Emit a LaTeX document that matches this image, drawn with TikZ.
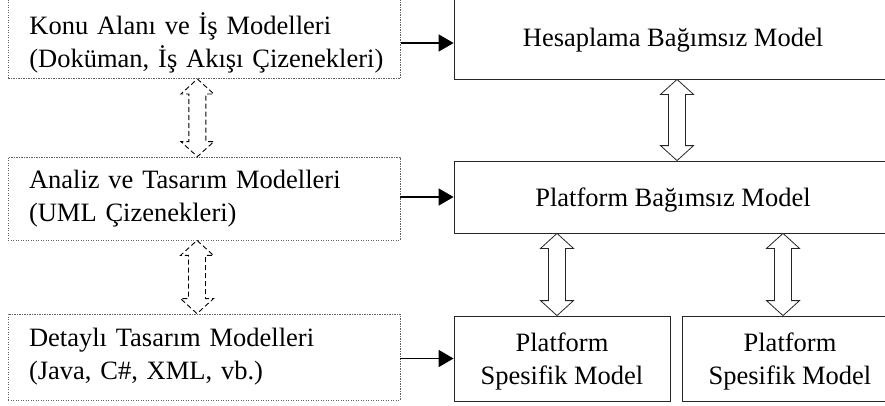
\documentclass[tikz,border=0pt]{standalone}
\usepackage{fontspec}
\setmainfont{Liberation Serif}
\usetikzlibrary{calc,arrows.meta}

\tikzset{
    leftbox/.style={draw=gray!75!black, dash pattern=on 1.2pt off 1.3pt, line width=0.8pt,
        minimum width=392pt, text width=350pt, inner xsep=21pt, inner ysep=0pt,
        minimum height=83pt, align=left},
    rightbox/.style={draw=black!85, line width=0.8pt, align=center, text depth=0pt, inner sep=0pt},
    arr/.style={-{Triangle[length=15pt,width=17pt]}, line width=1.5pt},
    hollow/.style={draw=black!85, line width=0.8pt, fill=white},
    dasharr/.style={draw=black, line width=0.9pt, dash pattern=on 5pt off 3pt, fill=white},
}

% hollow two-way arrow between a top and a bottom point
\newcommand{\twoway}[3][]{%
    \draw[#1] let \p1=#2, \p2=#3 in
        (\x1,\y1) -- (\x1+16.5pt,\y1-15pt) -- (\x1+8.5pt,\y1-15pt) -- (\x1+8.5pt,\y2+15pt)
        -- (\x1+16.5pt,\y2+15pt) -- (\x1,\y2) -- (\x1-16.5pt,\y2+15pt) -- (\x1-8.5pt,\y2+15pt)
        -- (\x1-8.5pt,\y1-15pt) -- (\x1-16.5pt,\y1-15pt) -- cycle;}

\begin{document}
\begin{tikzpicture}[x=1pt, y=-1pt, font=\fontsize{26.5}{33}\selectfont]
    \useasboundingbox (0,0) rectangle (885,405);
    \clip (0,0) rectangle (885,405);

    % Left column (dotted)
    \node[leftbox, anchor=south west] (konu) at (8,79)
        {\rule{0pt}{46pt}\mbox{Konu Alanı ve İş Modelleri}\\\mbox{(Doküman, İş Akışı Çizenekleri)}\rule[-11pt]{0pt}{11pt}};
    \node[leftbox] (analiz) at (204,198.5) {Analiz ve Tasarım Modelleri\\(UML Çizenekleri)};
    \node[leftbox, minimum height=86pt] (detay) at (204,357) {Detaylı Tasarım Modelleri\\(Java, C\#, XML, vb.)};

    % Right column
    \node[rightbox, minimum width=438pt, minimum height=84pt] (hbm) at (673,37) {Hesaplama Bağımsız Model};
    \node[rightbox, minimum width=438pt, minimum height=72pt] (pbm) at (673,197) {Platform Bağımsız Model};
    \node[rightbox, minimum width=216pt, minimum height=85pt] (psma) at (562,358.5) {Platform\\Spesifik Model};
    \node[rightbox, minimum width=216pt, minimum height=85pt] (psmb) at (790,358.5) {Platform\\Spesifik Model};

    % Arrows left to right
    \coordinate (k1) at ([yshift=-6pt]hbm.west);
    \draw[arr] (k1 -| konu.east) -- (k1);
    \draw[arr] (pbm.west -| analiz.east) -- (pbm.west);
    \draw[arr] (psma.west -| detay.east) -- (psma.west);

    % Two-way arrows
    \twoway[dasharr]{([xshift=-7pt]konu.south)}{([xshift=-7pt]analiz.north)}
    \twoway[dasharr]{([xshift=-7pt]analiz.south)}{([xshift=-7pt]detay.north)}
    \twoway[hollow]{([xshift=4pt]hbm.south)}{([xshift=4pt]pbm.north)}
    \twoway[hollow]{([xshift=-5pt]psma.north |- pbm.south)}{([xshift=-5pt]psma.north)}
    \twoway[hollow]{([xshift=-7pt]psmb.north |- pbm.south)}{([xshift=-7pt]psmb.north)}
\end{tikzpicture}
\end{document}
